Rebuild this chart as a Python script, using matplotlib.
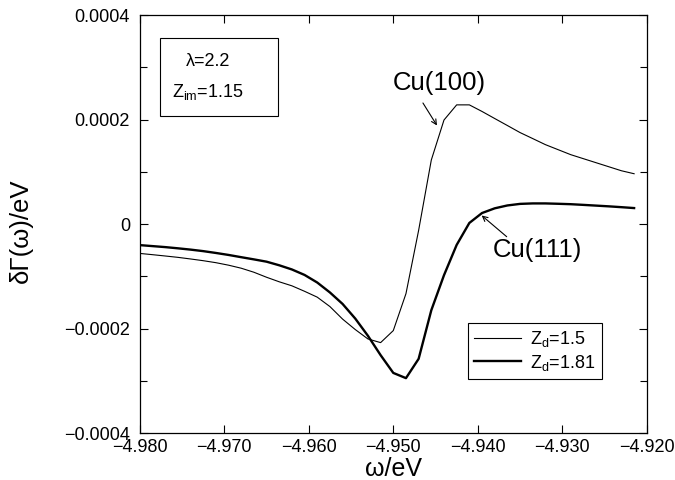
import matplotlib
matplotlib.use("Agg")
import matplotlib.pyplot as plt
from matplotlib.ticker import FixedLocator, FixedFormatter, MultipleLocator
from matplotlib.patches import Rectangle

plt.rcParams['font.family'] = ['Liberation Sans', 'DejaVu Sans']
plt.rcParams['mathtext.default'] = 'regular'

# energy grid (eV)
omega = [-4.98, -4.9785, -4.977, -4.9755, -4.974, -4.9725, -4.971, -4.9695,
         -4.968, -4.9665, -4.965, -4.9635, -4.962, -4.9605, -4.959, -4.9575,
         -4.956, -4.9545, -4.953, -4.9515, -4.95, -4.9485, -4.947, -4.9455,
         -4.944, -4.9425, -4.941, -4.9395, -4.938, -4.9365, -4.935, -4.9335,
         -4.932, -4.9305, -4.929, -4.9275, -4.926, -4.9245, -4.923, -4.9215]

# delta Gamma in units of 1e-4 eV
cu100_zd15 = [-0.563, -0.587, -0.612, -0.638, -0.669, -0.702, -0.740, -0.788,
              -0.846, -0.923, -1.019, -1.106, -1.183, -1.288, -1.40, -1.58,
              -1.82, -2.02, -2.20, -2.27, -2.04, -1.333, -0.12, 1.225,
              1.99, 2.28, 2.28, 2.154, 2.019, 1.885, 1.75, 1.635,
              1.519, 1.423, 1.327, 1.25, 1.173, 1.096, 1.019, 0.962]

cu111_zd181 = [-0.404, -0.423, -0.442, -0.465, -0.490, -0.519, -0.554, -0.592,
               -0.635, -0.677, -0.721, -0.790, -0.870, -0.975, -1.12, -1.31,
               -1.53, -1.81, -2.14, -2.51, -2.85, -2.95, -2.58, -1.65,
               -0.98, -0.40, 0.02, 0.21, 0.30, 0.355, 0.385, 0.394,
               0.394, 0.387, 0.379, 0.366, 0.352, 0.338, 0.322, 0.305]

series_labels = ['Z$_d$=1.5', 'Z$_d$=1.81']
x_ticks = [-4.98, -4.97, -4.96, -4.95, -4.94, -4.93, -4.92]
x_tick_labels = ['\u22124.980', '\u22124.970', '\u22124.960', '\u22124.950',
                 '\u22124.940', '\u22124.930', '\u22124.920']
y_ticks = [-0.0004, -0.0002, 0.0, 0.0002, 0.0004]
y_tick_labels = ['\u22120.0004', '\u22120.0002', '0', '0.0002', '0.0004']

scale = 1e-4
y1 = [v * scale for v in cu100_zd15]
y2 = [v * scale for v in cu111_zd181]

fig = plt.figure(figsize=(6.75, 4.8), dpi=100)
ax = fig.add_axes([0.2071, 0.0979, 0.9582 - 0.2071, 0.96875 - 0.0979])

l1, = ax.plot(omega, y1, color='black', lw=0.8, label=series_labels[0])
l2, = ax.plot(omega, y2, color='black', lw=1.7, label=series_labels[1])

ax.set_xlim(-4.98, -4.92)
ax.set_ylim(-0.0004, 0.0004)

ax.xaxis.set_major_locator(FixedLocator(x_ticks))
ax.xaxis.set_major_formatter(FixedFormatter(x_tick_labels))
ax.yaxis.set_major_locator(FixedLocator(y_ticks))
ax.yaxis.set_major_formatter(FixedFormatter(y_tick_labels))
ax.yaxis.set_minor_locator(MultipleLocator(0.0001))

ax.tick_params(which='both', direction='in', top=True, right=True, width=0.8)
ax.tick_params(which='major', length=6)
ax.tick_params(which='minor', length=5)
ax.tick_params(axis='y', which='major', labelsize=13, pad=7)
ax.tick_params(axis='x', which='major', labelsize=13, pad=4)
for sp in ax.spines.values():
    sp.set_linewidth(0.9)

ax.set_xlabel('\u03c9/eV', fontsize=18, labelpad=0)
ax.xaxis.set_label_coords(0.5, -0.058)
ax.xaxis.label.set_va('top')
ax.set_ylabel('\u03b4\u0393(\u03c9)/eV', fontsize=18.5)
ax.yaxis.set_label_coords(-0.21, 0.485)

# parameter box
ax.add_patch(Rectangle((0.040, 0.758), 0.2326, 0.1877, transform=ax.transAxes,
                       fill=False, edgecolor='black', lw=0.8))
ax.text(0.1347, 0.8876, '\u03bb=2.2', transform=ax.transAxes, fontsize=13,
        ha='center', va='center')
ax.text(0.1347, 0.8158, 'Z$_{im}$=1.15', transform=ax.transAxes, fontsize=13,
        ha='center', va='center')

# curve labels
ax.text(-4.95004, 2.699e-4, 'Cu(100)', fontsize=18.5, ha='left', va='center')
ax.annotate('', xy=(-4.94483, 1.885e-4), xytext=(-4.94649, 2.316e-4),
            arrowprops=dict(arrowstyle='->', lw=0.8, mutation_scale=9,
                            shrinkA=0, shrinkB=0))
ax.text(-4.9382, -0.498e-4, 'Cu(111)', fontsize=18.5, ha='left', va='center')
ax.annotate('', xy=(-4.93954, 0.163e-4), xytext=(-4.93658, -0.243e-4),
            arrowprops=dict(arrowstyle='->', lw=0.8, mutation_scale=9,
                            shrinkA=0, shrinkB=0))

leg = ax.legend(handles=[l1, l2], loc='upper left', bbox_to_anchor=(0.647, 0.264),
                borderaxespad=0, fontsize=13, frameon=True, fancybox=False,
                edgecolor='black', framealpha=1, handlelength=2.6,
                handletextpad=0.5, labelspacing=0.2, borderpad=0.35)
leg.get_frame().set_linewidth(0.8)

fig.savefig('out.png', dpi=100)
